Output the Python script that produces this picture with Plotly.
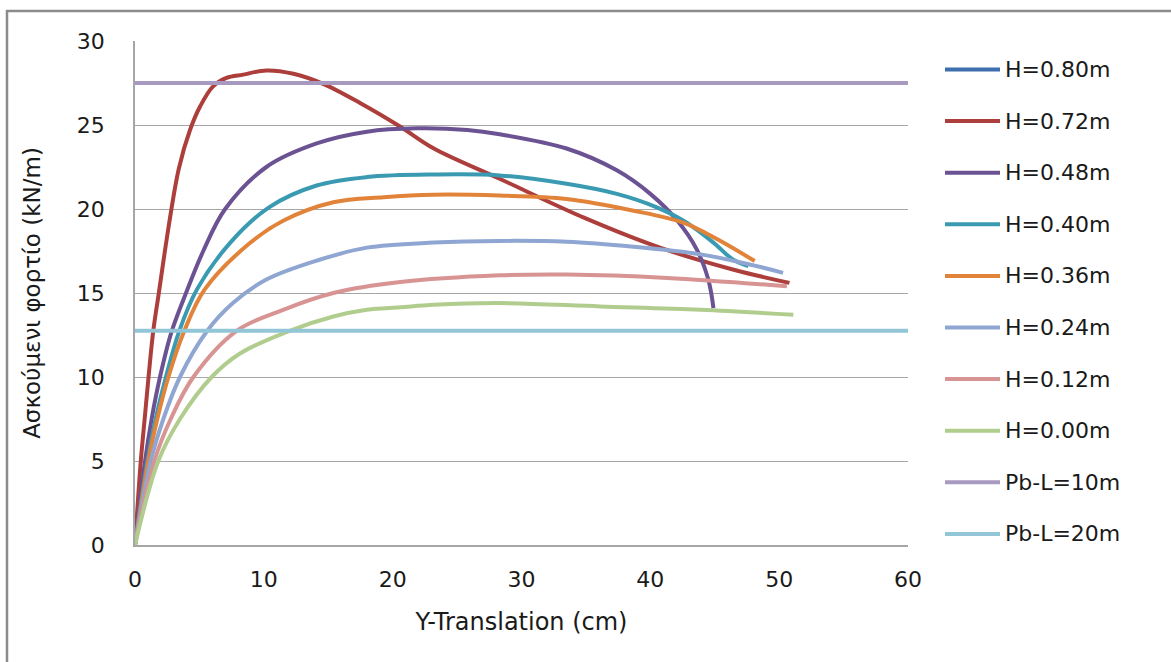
import plotly.graph_objects as go

# Y-translation (cm) and applied load (kN/m) per series
x_h080 = []
y_h080 = []

x_h072 = [0, 0.45, 0.75, 1.05, 1.42, 1.85, 2.6, 3.4, 4.27, 5.05, 6.06, 7.1, 8.4, 10.2, 12.3, 14.6, 17.5, 20.6, 23.2, 28.3, 34.8, 40.75, 46.4, 50.8]
y_h072 = [0, 5.0, 7.5, 10.0, 12.75, 15.0, 18.9, 22.4, 24.7, 26.1, 27.3, 27.8, 28.0, 28.25, 28.05, 27.45, 26.3, 24.9, 23.6, 21.8, 19.5, 17.7, 16.4, 15.6]

x_h048 = [0, 0.78, 1.29, 1.94, 2.8, 3.96, 5.3, 7.0, 10.2, 14.1, 18.0, 21.9, 25.8, 28.3, 33.5, 37.4, 40.0, 42.1, 43.6, 44.5, 44.9]
y_h048 = [0, 5.0, 7.5, 10.0, 12.6, 15.0, 17.5, 20.0, 22.5, 23.9, 24.6, 24.8, 24.7, 24.45, 23.6, 22.3, 20.9, 19.3, 17.6, 15.8, 14.1]

x_h040 = [0, 0.96, 1.6, 2.4, 3.44, 4.8, 7.4, 10.4, 14.1, 18.0, 23.2, 28.3, 33.5, 37.4, 40.5, 42.8, 44.9, 46.4, 47.6]
y_h040 = [0, 5.0, 7.5, 10.0, 12.75, 15.2, 18.0, 20.1, 21.4, 21.9, 22.05, 22.0, 21.5, 20.9, 20.1, 19.2, 18.0, 17.0, 16.6]

x_h036 = [0, 1.03, 1.73, 2.59, 3.83, 5.4, 8.8, 11.5, 15.4, 19.3, 23.2, 28.3, 33.5, 38.7, 42.5, 45.2, 48.1]
y_h036 = [0, 5.0, 7.5, 10.0, 12.75, 15.2, 17.9, 19.3, 20.4, 20.7, 20.85, 20.8, 20.6, 19.9, 19.2, 18.2, 16.9]

x_h024 = [0, 1.22, 2.2, 3.49, 5.61, 7.6, 10.2, 14.2, 18.0, 23.2, 28.3, 33.5, 38.7, 43.9, 47.7, 50.3]
y_h024 = [0, 5.0, 7.5, 10.0, 12.75, 14.4, 15.8, 16.95, 17.7, 18.0, 18.1, 18.05, 17.75, 17.3, 16.7, 16.2]

x_h012 = [0, 1.5, 2.77, 4.53, 7.89, 11.5, 15.4, 20.6, 28.3, 33.5, 41.3, 50.6]
y_h012 = [0, 5.0, 7.5, 10.0, 12.75, 14.0, 15.0, 15.65, 16.05, 16.1, 15.9, 15.4]

x_h000 = [0, 1.81, 3.49, 5.95, 8.15, 12.0, 15.4, 18.0, 20.6, 23.2, 28.3, 36.1, 43.9, 51.1]
y_h000 = [0, 5.0, 7.5, 10.0, 11.4, 12.75, 13.6, 14.0, 14.15, 14.3, 14.4, 14.2, 14.0, 13.7]

x_pb = [0, 60]
y_pb10 = [27.5, 27.5]
y_pb20 = [12.75, 12.75]

series = [
    ("H=0.80m", x_h080, y_h080, "#3f6fae"),
    ("H=0.72m", x_h072, y_h072, "#ac3f3c"),
    ("H=0.48m", x_h048, y_h048, "#6b5292"),
    ("H=0.40m", x_h040, y_h040, "#3a9ab2"),
    ("H=0.36m", x_h036, y_h036, "#e2833a"),
    ("H=0.24m", x_h024, y_h024, "#8ea6d1"),
    ("H=0.12m", x_h012, y_h012, "#d79493"),
    ("H=0.00m", x_h000, y_h000, "#b1cd8e"),
    ("Pb-L=10m", x_pb, y_pb10, "#a899c1"),
    ("Pb-L=20m", x_pb, y_pb20, "#92c5d6"),
]

FONT = "DejaVu Sans"
TEXT = "#1a1a1a"

# plot area in pixels (used to place the key and the frame in paper units)
L, R, T, B = 135, 908, 41, 545
W, H = R - L, B - T


def px(xp):
    return (xp - L) / W


def py(yp):
    return (B - yp) / H


fig = go.Figure()
for name, xs, ys, color in series:
    fig.add_trace(go.Scatter(
        x=xs if xs else [None], y=ys if ys else [None],
        name=name, mode="lines", showlegend=False,
        line=dict(color=color, width=4, shape="spline", smoothing=1.0),
    ))

# key on the right: short line sample plus label per series
shapes = []
annotations = []
for i, (name, _, _, color) in enumerate(series):
    yc = 69.5 + i * 51.6
    shapes.append(dict(type="line", xref="paper", yref="paper",
                       x0=px(945), x1=px(1000), y0=py(yc), y1=py(yc),
                       line=dict(color=color, width=4)))
    annotations.append(dict(xref="paper", yref="paper", x=px(1003), y=py(yc),
                            xanchor="left", yanchor="middle", showarrow=False,
                            text=name, font=dict(family=FONT, size=22, color=TEXT)))

# outer chart frame
shapes.append(dict(type="rect", xref="paper", yref="paper",
                   x0=px(7), x1=px(1190), y0=py(700), y1=py(11),
                   line=dict(color="#8c8c8c", width=2.5), layer="below"))

fig.update_layout(
    width=1171, height=662,
    margin=dict(l=L, r=1171 - R, t=T, b=662 - B),
    paper_bgcolor="white", plot_bgcolor="white",
    font=dict(family=FONT, size=20, color=TEXT),
    showlegend=False,
    xaxis=dict(
        range=[0, 60], dtick=10, showgrid=False, zeroline=False,
        showline=True, linecolor="#a6a6a6", linewidth=1.5,
        ticks="", ticklabelstandoff=14,
        tickfont=dict(family=FONT, size=22, color=TEXT),
        title=dict(text="Y-Translation (cm)", font=dict(family=FONT, size=24, color=TEXT), standoff=22),
    ),
    yaxis=dict(
        range=[0, 30], dtick=5, showgrid=True, gridcolor="#a6a6a6", gridwidth=1,
        zeroline=False, showline=True, linecolor="#a6a6a6", linewidth=1.5,
        ticks="", ticklabelstandoff=24,
        tickfont=dict(family=FONT, size=22, color=TEXT),
        title=dict(text="Ασκούμενι φορτίο (kN/m)", font=dict(family=FONT, size=23, color=TEXT), standoff=30),
    ),
    shapes=shapes,
    annotations=annotations,
)

fig.write_html("out.html")
